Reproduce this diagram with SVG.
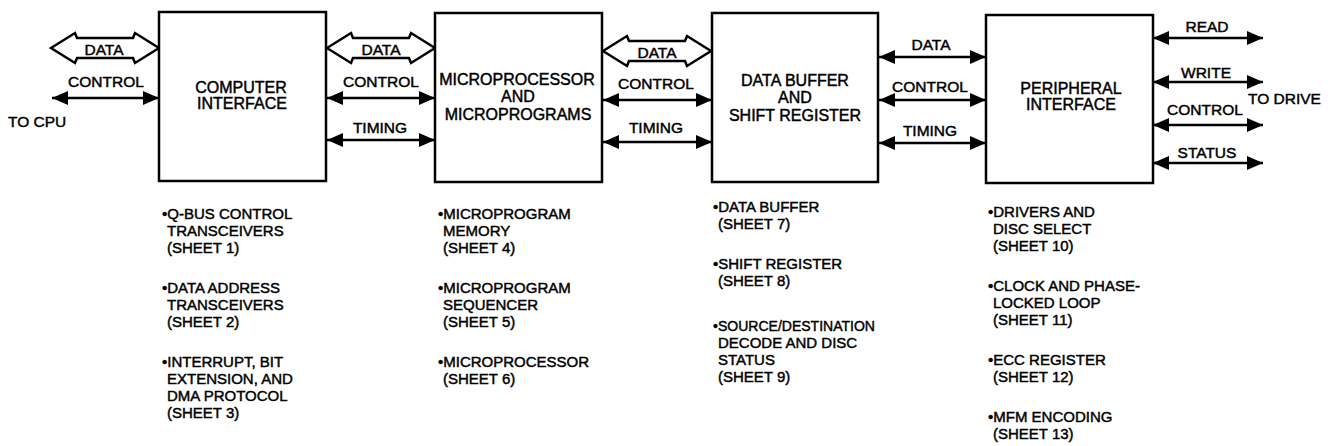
<svg xmlns="http://www.w3.org/2000/svg" width="1332" height="446" viewBox="0 0 1332 446">
<style>
text{font-family:"Liberation Sans",Arial,sans-serif;fill:#000;stroke:#000;stroke-width:0.45}
.box{fill:#fff;stroke:#000;stroke-width:2.5}
.bl{font-size:16px;text-anchor:middle}
.cl{font-size:15.5px;text-anchor:middle}
.nt{font-size:15px}
.ln{stroke:#000;stroke-width:2.5;fill:none;marker-start:url(#ah);marker-end:url(#ah)}
.hb{fill:#fff;stroke:#000;stroke-width:2.5;stroke-linejoin:miter}
</style>
<defs>
<marker id="ah" markerUnits="userSpaceOnUse" markerWidth="17" markerHeight="16" refX="16" refY="7" orient="auto-start-reverse" viewBox="0 0 17 14">
<path d="M0,0 L16,7 L0,14 Z" fill="#000"/>
</marker>
</defs>
<rect width="1332" height="446" fill="#fff"/>
<g id="connectors">
<path class="hb" d="M51,48 L75,33 L77,38 L133,38 L135,33 L159,48 L135,63 L133,58 L77,58 L75,63 Z"/>
<text class="cl" x="104" y="55">DATA</text>
<line class="ln" x1="52" y1="98" x2="159" y2="98"/>
<text class="cl" x="106" y="87">CONTROL</text>
<text class="cl" x="8" y="127" style="text-anchor:start">TO CPU</text>

<path class="hb" d="M327,48 L351,33 L353,38 L409,38 L411,33 L435,48 L411,63 L409,58 L353,58 L351,63 Z"/>
<text class="cl" x="381" y="55">DATA</text>
<line class="ln" x1="327" y1="98" x2="435" y2="98"/>
<text class="cl" x="381" y="87">CONTROL</text>
<line class="ln" x1="327" y1="140" x2="435" y2="140"/>
<text class="cl" x="380" y="133">TIMING</text>

<path class="hb" d="M603,51 L627,36 L629,41 L685,41 L687,36 L711,51 L687,66 L685,61 L629,61 L627,66 Z"/>
<text class="cl" x="657" y="58">DATA</text>
<line class="ln" x1="603" y1="100" x2="712" y2="100"/>
<text class="cl" x="656" y="89">CONTROL</text>
<line class="ln" x1="603" y1="142" x2="712" y2="142"/>
<text class="cl" x="656" y="133">TIMING</text>

<line class="ln" x1="879" y1="57" x2="986" y2="57"/>
<text class="cl" x="931" y="50">DATA</text>
<line class="ln" x1="879" y1="100" x2="986" y2="100"/>
<text class="cl" x="930" y="92">CONTROL</text>
<line class="ln" x1="879" y1="143" x2="986" y2="143"/>
<text class="cl" x="930" y="136">TIMING</text>

<line class="ln" x1="1153" y1="38" x2="1263" y2="38"/>
<text class="cl" x="1207" y="32">READ</text>
<line class="ln" x1="1153" y1="82" x2="1263" y2="82"/>
<text class="cl" x="1206" y="78">WRITE</text>
<line class="ln" x1="1153" y1="125" x2="1263" y2="125"/>
<text class="cl" x="1205" y="115">CONTROL</text>
<line class="ln" x1="1153" y1="163" x2="1263" y2="163"/>
<text class="cl" x="1207" y="158">STATUS</text>
<text class="cl" x="1248" y="104" style="text-anchor:start">TO DRIVE</text>
</g>

<g id="computer-interface">
<rect class="box" x="159" y="12" width="167" height="169"/>
<text class="bl" x="241" y="93">COMPUTER</text>
<text class="bl" x="242" y="109">INTERFACE</text>
</g>
<g id="microprocessor">
<rect class="box" x="435" y="13" width="167" height="169"/>
<text class="bl" x="517" y="85">MICROPROCESSOR</text>
<text class="bl" x="518" y="102">AND</text>
<text class="bl" x="518" y="120">MICROPROGRAMS</text>
</g>
<g id="data-buffer">
<rect class="box" x="712" y="13" width="166" height="169"/>
<text class="bl" x="795" y="86">DATA BUFFER</text>
<text class="bl" x="795" y="103">AND</text>
<text class="bl" x="795" y="121">SHIFT REGISTER</text>
</g>
<g id="peripheral-interface">
<rect class="box" x="986" y="15" width="167" height="168"/>
<text class="bl" x="1071" y="94">PERIPHERAL</text>
<text class="bl" x="1071" y="110">INTERFACE</text>
</g>

<g id="notes-computer-interface" class="nt">
<text x="162" y="219">•Q-BUS CONTROL</text>
<text x="167" y="236">TRANSCEIVERS</text>
<text x="167" y="253">(SHEET 1)</text>
<text x="162" y="293">•DATA ADDRESS</text>
<text x="167" y="310">TRANSCEIVERS</text>
<text x="167" y="327">(SHEET 2)</text>
<text x="162" y="367">•INTERRUPT, BIT</text>
<text x="167" y="384">EXTENSION, AND</text>
<text x="167" y="401">DMA PROTOCOL</text>
<text x="167" y="418">(SHEET 3)</text>
</g>
<g id="notes-microprocessor" class="nt">
<text x="438" y="219">•MICROPROGRAM</text>
<text x="443" y="236">MEMORY</text>
<text x="443" y="253">(SHEET 4)</text>
<text x="438" y="293">•MICROPROGRAM</text>
<text x="443" y="310">SEQUENCER</text>
<text x="443" y="327">(SHEET 5)</text>
<text x="438" y="367">•MICROPROCESSOR</text>
<text x="443" y="384">(SHEET 6)</text>
</g>
<g id="notes-data-buffer" class="nt">
<text x="713" y="212">•DATA BUFFER</text>
<text x="718" y="229">(SHEET 7)</text>
<text x="713" y="269">•SHIFT REGISTER</text>
<text x="718" y="286">(SHEET 8)</text>
<text x="713" y="331" textLength="162" lengthAdjust="spacingAndGlyphs">•SOURCE/DESTINATION</text>
<text x="718" y="348">DECODE AND DISC</text>
<text x="718" y="365">STATUS</text>
<text x="718" y="382">(SHEET 9)</text>
</g>
<g id="notes-peripheral" class="nt">
<text x="988" y="217">•DRIVERS AND</text>
<text x="993" y="234">DISC SELECT</text>
<text x="993" y="251">(SHEET 10)</text>
<text x="988" y="291">•CLOCK AND PHASE-</text>
<text x="993" y="308">LOCKED LOOP</text>
<text x="993" y="325">(SHEET 11)</text>
<text x="988" y="365">•ECC REGISTER</text>
<text x="993" y="382">(SHEET 12)</text>
<text x="988" y="422">•MFM ENCODING</text>
<text x="993" y="439">(SHEET 13)</text>
</g>
</svg>
